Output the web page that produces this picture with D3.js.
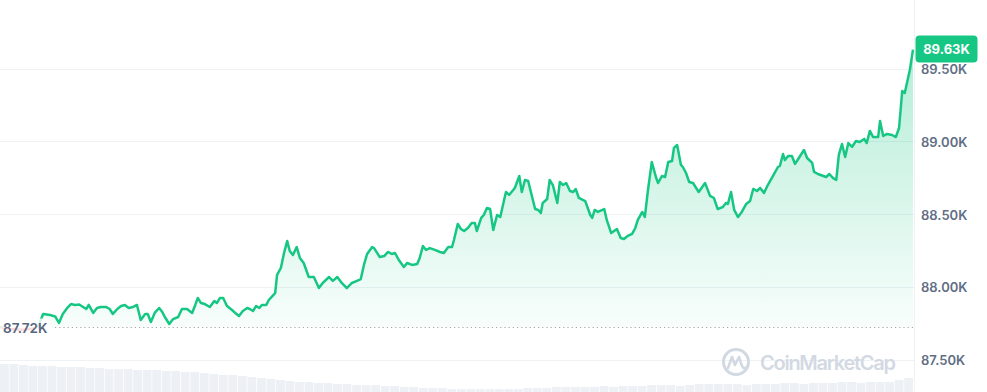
<!DOCTYPE html>
<html>
<head>
<meta charset="utf-8">
<script src="https://cdn.jsdelivr.net/npm/d3@7"></script>
<style>
  html, body { margin: 0; padding: 0; background: #fff; }
  svg { display: block; font-family: Inter, "Noto Sans", sans-serif; }
</style>
</head>
<body>
<svg id="chart" width="987" height="392"></svg>
<script>
// minutes since start of the 24h window
var times = [0,16,39,60,68,79,87,93,99,106,112,118,125,131,136,140,147,153,159,167,173,178,185,191,197,203,210,216,222,229,233,238,244,251,256,260,267,273,281,287,295,303,308,312,317,323,331,338,342,347,352,358,366,371,377,383,390,394,399,404,409,413,420,424,431,434,437,443,448,453,457,462,468,473,479,487,495,503,509,519,525,532,539,547,555,563,569,574,579,587,590,599,606,612,618,623,629,637,642,650,658,662,667,672,678,686,694,700,707,713,716,722,727,732,738,744,749,752,759,763,768,773,778,784,789,798,803,812,819,823,828,833,844,849,853,856,863,867,872,879,883,888,893,899,904,908,913,923,931,934,938,943,953,957,964,973,979,984,990,997,1002,1006,1013,1017,1022,1028,1035,1038,1044,1049,1054,1060,1063,1068,1074,1077,1082,1087,1093,1102,1112,1120,1126,1132,1140,1145,1148,1153,1158,1164,1170,1177,1183,1188,1194,1199,1205,1211,1219,1227,1230,1235,1238,1243,1249,1254,1260,1268,1273,1281,1284,1290,1303,1308,1314,1319,1323,1328,1333,1338,1344,1350,1356,1363,1367,1372,1377,1385,1388,1393,1399,1407,1413,1418,1423,1427,1435,1440];

var prices = [87723,87710,87703,87723,87813,87806,87796,87751,87813,87854,87881,87875,87878,87861,87847,87875,87820,87854,87861,87861,87847,87813,87847,87868,87875,87854,87861,87875,87771,87813,87813,87758,87820,87854,87826,87792,87744,87778,87792,87847,87847,87820,87875,87923,87888,87881,87861,87902,87888,87923,87923,87868,87840,87820,87799,87833,87854,87847,87833,87868,87854,87875,87875,87909,87943,87957,88081,88129,88232,88314,88246,88218,88273,88198,88163,88067,88067,87991,88026,88067,88040,88067,88026,87991,88026,88040,88053,88150,88225,88273,88266,88204,88211,88239,88225,88232,88184,88136,88163,88150,88156,88198,88280,88253,88266,88253,88239,88232,88273,88273,88321,88431,88397,88383,88404,88438,88438,88383,88473,88493,88541,88534,88390,88493,88479,88651,88631,88679,88761,88651,88734,88727,88534,88528,88507,88576,88603,88734,88699,88576,88720,88699,88713,88658,88651,88672,88610,88589,88493,88473,88528,88514,88534,88459,88369,88397,88335,88328,88349,88363,88404,88459,88514,88479,88665,88857,88747,88713,88761,88754,88857,88864,88954,88974,88837,88823,88782,88720,88713,88651,88713,88624,88610,88534,88548,88576,88569,88651,88528,88479,88514,88569,88589,88672,88658,88679,88644,88699,88761,88823,88830,88912,88871,88899,88899,88844,88885,88940,88885,88851,88789,88775,88754,88775,88747,88734,88906,88981,88892,88988,88961,89002,88995,89016,88988,89071,89029,89029,89139,89036,89050,89043,89029,89091,89345,89332,89490,89630];

// volume per 15 min bucket (relative units)
var volumes = [28,28,27,26,26,26,25,25,25,24,24,23,23,23,22,22,22,21,21,20,20,19,18,17,17,16,15,14,13,12,11,10,10,9,9,8,8,7,7,7,6,6,5,5,4,4,4,3,3,3,3,3,3,3,3,4,4,4,5,5,5,5,5,6,5,6,6,6,7,7,7,6,7,8,8,8,8,8,7,8,8,8,9,9,8,9,9,9,10,10,9,10,10,10,12,14];

var yTicks = [87500, 88000, 88500, 89000, 89500];
var openPrice = 87720;

var green = "#16c784", red = "#ea3943";
var W = 987, H = 392, plotRight = 914;

var svg = d3.select("#chart");
var data = times.map(function(t, i) { return { t: t, v: prices[i] }; });

var x = d3.scaleLinear().domain([0, 1440]).range([0, 913]);
var y = d3.scaleLinear().domain([87500, 89500]).range([359.5, 68.5]);
var fmt = function(v) { return d3.format(".2f")(v / 1000) + "K"; };

// volume bars at the bottom
var xv = d3.scaleBand().domain(d3.range(volumes.length)).range([0, 913]).paddingInner(0.08);
var yv = d3.scaleLinear().domain([0, 28]).range([H, H - 28]);
svg.append("g").selectAll("rect").data(volumes).enter().append("rect")
  .attr("x", function(d, i) { return xv(i); })
  .attr("width", xv.bandwidth())
  .attr("y", function(d) { return yv(d); })
  .attr("height", function(d) { return H - yv(d); })
  .attr("fill", "#edf0f4");

// grid
svg.append("g").selectAll("line").data(yTicks).enter().append("line")
  .attr("x1", 0).attr("x2", plotRight)
  .attr("y1", function(d) { return Math.round(y(d)) + 0.5; })
  .attr("y2", function(d) { return Math.round(y(d)) + 0.5; })
  .attr("stroke", "#eff2f5").attr("stroke-width", 1);

svg.append("line")
  .attr("x1", plotRight + 0.5).attr("x2", plotRight + 0.5)
  .attr("y1", 0).attr("y2", H)
  .attr("stroke", "#eff2f5");

// watermark
var wm = svg.append("g").attr("transform", "translate(736,362)");
wm.append("circle").attr("r", 12.5).attr("fill", "none").attr("stroke", "#d3d9e3").attr("stroke-width", 3);
wm.append("path").attr("d", "M-8,6 L-4,-5 L-1,3 L3,-5 L6,4 Q8,8 11,5")
  .attr("fill", "none").attr("stroke", "#d3d9e3").attr("stroke-width", 2.6).attr("stroke-linejoin", "round").attr("stroke-linecap", "round");
svg.append("text").attr("x", 760).attr("y", 363).attr("dy", "0.35em")
  .attr("font-size", 20).attr("font-weight", 600).attr("fill", "#d3d9e3")
  .attr("textLength", 136)
  .text("CoinMarketCap");

// gradients
var defs = svg.append("defs");
var yBase = y(openPrice);
var gUp = defs.append("linearGradient").attr("id", "gUp").attr("gradientUnits", "userSpaceOnUse")
  .attr("x1", 0).attr("x2", 0).attr("y1", y(d3.max(prices))).attr("y2", yBase);
gUp.append("stop").attr("offset", 0).attr("stop-color", green).attr("stop-opacity", 0.32);
gUp.append("stop").attr("offset", 1).attr("stop-color", green).attr("stop-opacity", 0.03);
var gDn = defs.append("linearGradient").attr("id", "gDn").attr("gradientUnits", "userSpaceOnUse")
  .attr("x1", 0).attr("x2", 0).attr("y1", yBase).attr("y2", y(d3.min(prices)));
gDn.append("stop").attr("offset", 0).attr("stop-color", red).attr("stop-opacity", 0.03);
gDn.append("stop").attr("offset", 1).attr("stop-color", red).attr("stop-opacity", 0.2);

defs.append("clipPath").attr("id", "above").append("rect")
  .attr("x", 0).attr("y", 0).attr("width", plotRight).attr("height", yBase);
defs.append("clipPath").attr("id", "below").append("rect")
  .attr("x", 0).attr("y", yBase).attr("width", plotRight).attr("height", H - yBase);

var area = d3.area().x(function(d) { return x(d.t); }).y0(yBase).y1(function(d) { return y(d.v); });
var line = d3.line().x(function(d) { return x(d.t); }).y(function(d) { return y(d.v); });

svg.append("path").datum(data).attr("d", area).attr("fill", "url(#gUp)").attr("clip-path", "url(#above)");
svg.append("path").datum(data).attr("d", area).attr("fill", "url(#gDn)").attr("clip-path", "url(#below)");

// open price reference
svg.append("line")
  .attr("x1", 55).attr("x2", 913)
  .attr("y1", yBase).attr("y2", yBase)
  .attr("stroke", "#a7a2ab").attr("stroke-width", 1.2).attr("stroke-dasharray", "1.2,3");

svg.append("path").datum(data).attr("d", line).attr("fill", "none")
  .attr("stroke", green).attr("stroke-width", 2.5).attr("stroke-linejoin", "round")
  .attr("clip-path", "url(#above)");
svg.append("path").datum(data).attr("d", line).attr("fill", "none")
  .attr("stroke", red).attr("stroke-width", 2.5).attr("stroke-linejoin", "round")
  .attr("clip-path", "url(#below)");

// open price label
svg.append("rect").attr("x", 0).attr("y", yBase - 9).attr("width", 50).attr("height", 18)
  .attr("fill", "#fff").attr("opacity", 0.82);
svg.append("text").attr("x", 3).attr("y", yBase + 1).attr("dy", "0.35em")
  .attr("font-size", 13.5).attr("font-weight", 600).attr("fill", "#58667e")
  .text(fmt(openPrice));

// y axis labels
svg.append("g").selectAll("text").data(yTicks).enter().append("text")
  .attr("x", 921).attr("y", function(d) { return y(d) + 1; }).attr("dy", "0.35em")
  .attr("font-size", 13).attr("font-weight", 600).attr("fill", "#616e85")
  .text(fmt);

// current price tag
var last = data[data.length - 1];
var ly = y(last.v);
svg.append("rect").attr("x", 915.5).attr("y", ly - 14).attr("width", 62).attr("height", 27)
  .attr("rx", 4).attr("fill", green);
svg.append("text").attr("x", 946.5).attr("y", ly).attr("dy", "0.35em").attr("text-anchor", "middle")
  .attr("font-size", 13).attr("font-weight", 700).attr("fill", "#fff")
  .text(fmt(last.v));
</script>
</body>
</html>
